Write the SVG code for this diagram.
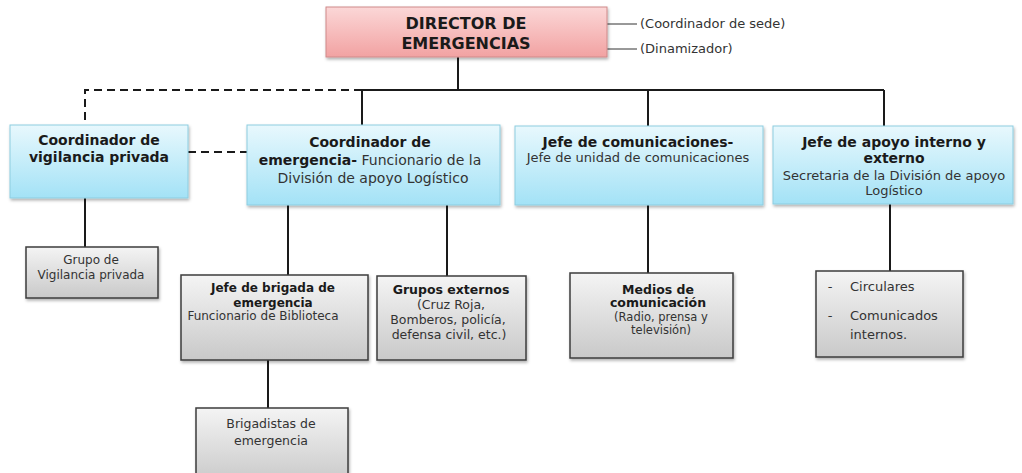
<svg xmlns="http://www.w3.org/2000/svg" width="1022" height="473" viewBox="0 0 1022 473">
<defs>
<linearGradient id="gPink" x1="0" y1="0" x2="0" y2="1"><stop offset="0" stop-color="#fbd7d7"/><stop offset="1" stop-color="#f2a2a2"/></linearGradient>
<linearGradient id="gBlue" x1="0" y1="0" x2="0" y2="1"><stop offset="0" stop-color="#e8f8fd"/><stop offset="1" stop-color="#a3e2f6"/></linearGradient>
<linearGradient id="gGray" x1="0" y1="0" x2="0" y2="1"><stop offset="0" stop-color="#f4f4f4"/><stop offset="1" stop-color="#c9c9c9"/></linearGradient>
<filter id="sh" x="-10%" y="-10%" width="120%" height="130%"><feDropShadow dx="1" dy="2" stdDeviation="1.5" flood-color="#000" flood-opacity="0.3"/></filter>
</defs>
<style>
text{font-family:"DejaVu Sans",Verdana,sans-serif;fill:#1a1a1a;text-anchor:middle}
.b{font-weight:bold}
.hd{font-size:14px;font-weight:bold}
.nm{font-size:13px;fill:#333}
.sm{font-size:12px;fill:#333}
.sb{font-size:12px;font-weight:bold}
.pink{fill:url(#gPink);stroke:#cf8a8a;stroke-width:1;filter:url(#sh)}
.blue{fill:url(#gBlue);stroke:#8dcde0;stroke-width:1;filter:url(#sh)}
.gray{fill:url(#gGray);stroke:#3c3c3c;stroke-width:1.5;filter:url(#sh)}
.ln{stroke:#1a1a1a;stroke-width:2;fill:none}
.ds{stroke:#1a1a1a;stroke-width:2;fill:none;stroke-dasharray:8 5}
.th{stroke:#333;stroke-width:1;fill:none}
</style>
<g id="connectors">
<line class="ln" x1="458" y1="57" x2="458" y2="90"/>
<line class="ln" x1="362" y1="90" x2="884" y2="90"/>
<line class="ln" x1="362" y1="90" x2="362" y2="125"/>
<line class="ln" x1="648" y1="90" x2="648" y2="126"/>
<line class="ln" x1="884" y1="90" x2="884" y2="126"/>
<path class="ds" d="M362 90 H85 V124"/>
<line class="ds" x1="188" y1="152" x2="247" y2="152"/>
<line class="ln" x1="85" y1="198" x2="85" y2="247"/>
<line class="ln" x1="288" y1="205" x2="288" y2="275"/>
<line class="ln" x1="447" y1="205" x2="447" y2="276"/>
<line class="ln" x1="648" y1="205" x2="648" y2="273"/>
<line class="ln" x1="890" y1="204" x2="890" y2="271"/>
<line class="ln" x1="268" y1="360" x2="268" y2="408"/>
<line class="th" x1="607" y1="24" x2="637" y2="24"/>
<line class="th" x1="607" y1="49" x2="637" y2="49"/>
</g>
<g id="director">
<rect class="pink" x="326" y="7" width="281" height="50"/>
<text x="466" y="29" style="font-size:16px" class="b">DIRECTOR DE</text>
<text x="466" y="49" style="font-size:16px" class="b">EMERGENCIAS</text>
</g>
<g id="annot">
<text x="640" y="28" class="nm" style="text-anchor:start">(Coordinador de sede)</text>
<text x="640" y="53" class="nm" style="text-anchor:start">(Dinamizador)</text>
</g>
<g id="coord-vigilancia">
<rect class="blue" x="10" y="125" width="178" height="73"/>
<text x="99" y="145" class="hd">Coordinador de</text>
<text x="99" y="162" class="hd">vigilancia privada</text>
</g>
<g id="coord-emergencia">
<rect class="blue" x="247" y="125" width="253" height="80"/>
<text x="370" y="147" class="hd">Coordinador de</text>
<text x="370" y="165"><tspan class="hd">emergencia-</tspan><tspan class="nm" style="font-size:14px"> Funcionario de la</tspan></text>
<text x="373" y="183" class="nm" style="font-size:14px">División de apoyo Logístico</text>
</g>
<g id="jefe-comunicaciones">
<rect class="blue" x="515" y="126" width="248" height="79"/>
<text x="638" y="147" class="hd">Jefe de comunicaciones-</text>
<text x="638" y="162" class="nm">Jefe de unidad de comunicaciones</text>
</g>
<g id="jefe-apoyo">
<rect class="blue" x="773" y="126" width="240" height="78"/>
<text x="894" y="147" class="hd">Jefe de apoyo interno y</text>
<text x="894" y="163" class="hd">externo</text>
<text x="894" y="180" class="nm">Secretaria de la División de apoyo</text>
<text x="894" y="195" class="nm">Logístico</text>
</g>
<g id="grupo-vigilancia">
<rect class="gray" x="26" y="247" width="132" height="51"/>
<text x="91" y="264" class="sm">Grupo de</text>
<text x="91" y="279" class="sm">Vigilancia privada</text>
</g>
<g id="jefe-brigada">
<rect class="gray" x="181" y="275" width="187" height="85"/>
<text x="273" y="292" class="sb">Jefe de brigada de</text>
<text x="273" y="307" class="sb">emergencia</text>
<text x="263" y="320" class="sm">Funcionario de Biblioteca</text>
</g>
<g id="grupos-externos">
<rect class="gray" x="377" y="276" width="149" height="84"/>
<text x="451" y="294" class="sb" style="font-size:12.5px">Grupos externos</text>
<text x="451" y="309" class="sm" style="font-size:12.5px">(Cruz Roja,</text>
<text x="448" y="324" class="sm" style="font-size:12.5px">Bomberos, policía,</text>
<text x="449" y="339" class="sm" style="font-size:12.5px">defensa civil, etc.)</text>
</g>
<g id="medios">
<rect class="gray" x="570" y="273" width="163" height="85"/>
<text x="658" y="294" class="sb" style="font-size:12.5px">Medios de</text>
<text x="658" y="307" class="sb" style="font-size:12.5px">comunicación</text>
<text x="661" y="321" class="sm" style="font-size:11.5px">(Radio, prensa y</text>
<text x="661" y="334" class="sm" style="font-size:11.5px">televisión)</text>
</g>
<g id="circulares">
<rect class="gray" x="816" y="271" width="147" height="86"/>
<text x="830" y="291" class="sm" style="font-size:13px">-</text>
<text x="850" y="291" class="sm" style="text-anchor:start;font-size:13px">Circulares</text>
<text x="830" y="320" class="sm" style="font-size:13px">-</text>
<text x="850" y="320" class="sm" style="text-anchor:start;font-size:13px">Comunicados</text>
<text x="850" y="339" class="sm" style="text-anchor:start;font-size:13px">internos.</text>
</g>
<g id="brigadistas">
<rect class="gray" x="196" y="408" width="152" height="75"/>
<text x="271" y="428" class="sm" style="font-size:12.5px">Brigadistas de</text>
<text x="271" y="445" class="sm" style="font-size:12.5px">emergencia</text>
</g>
</svg>
